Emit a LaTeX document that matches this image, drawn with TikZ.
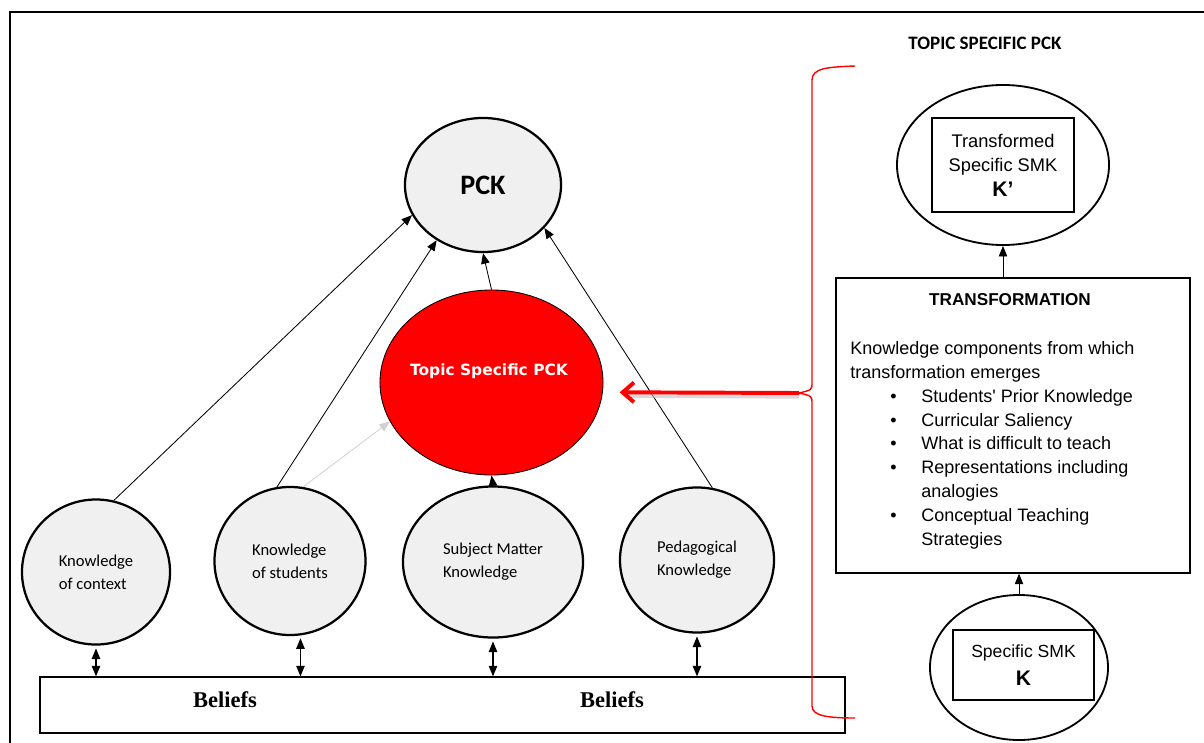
\documentclass[tikz,border=0pt]{standalone}
\usepackage{fontspec}
\setmainfont{Liberation Sans}
\newfontfamily\narrowfont{Carlito}
\newfontfamily\verdfont{DejaVu Sans}
\newfontfamily\timesfont{Liberation Serif}
\usetikzlibrary{shapes.geometric,arrows.meta}
\definecolor{lightfill}{RGB}{240,240,240}
\definecolor{pckred}{RGB}{255,0,0}
\newcommand{\tbul}{\hspace*{28.5pt}\makebox[22pt][l]{\textbullet}}

\tikzset{
  kell/.style={ellipse, draw, line width=1.6pt, fill=lightfill, inner sep=0pt, align=left,
    font=\narrowfont\fontsize{11.8}{16.4}\selectfont},
  rell/.style={ellipse, draw, line width=1.3pt, inner sep=0pt},
  rbox/.style={rectangle, draw, line width=0.9pt, inner sep=0pt},
  arr/.style={-{Triangle[length=7.5pt,width=6pt]}, line width=0.6pt},
  dblarr/.style={{Triangle[length=7.5pt,width=6pt]}-{Triangle[length=7.5pt,width=6pt]}, line width=0.8pt},
}

\begin{document}
\begin{tikzpicture}[x=0.025cm,y=-0.025cm]
\useasboundingbox (0,0) rectangle (1204,743);
\draw[line width=1.2pt] (1204,12) -- (10,12) -- (10,743);

\node[ellipse, draw, line width=1.6pt, fill=lightfill, minimum width=3.9cm, minimum height=3.35cm,
  font=\narrowfont\bfseries\fontsize{20}{22}\selectfont] (pck) at (483,185) {PCK};
\node[ellipse, draw, line width=0.6pt, fill=pckred, minimum width=5.575cm, minimum height=4.625cm] (tspck) at (491.5,382.5) {};
\node[text=white, font=\verdfont\bfseries\fontsize{11}{13}\selectfont] (tspcktext) at (489,371) {Topic Specific PCK};

\node[kell, minimum width=3.7cm, minimum height=3.625cm] (koc) at (96,572) {Knowledge\\of context};
\node[kell, minimum width=3.775cm, minimum height=3.7cm] (kos) at (290,561) {Knowledge\\of students};
\node[kell, minimum width=4.5cm, minimum height=3.775cm] (smk) at (493,562) {Subject Matter\\Knowledge};
\node[kell, minimum width=3.85cm, minimum height=3.625cm] (pk) at (697,560) {Pedagogical\\Knowledge};

\node[rbox, minimum width=20.125cm, minimum height=1.4cm] (beliefs) at (442.5,705) {};
\node[font=\timesfont\bfseries\fontsize{16}{18}\selectfont] (belief1) at (225,700) {Beliefs};
\node[font=\timesfont\bfseries\fontsize{16}{18}\selectfont] (belief2) at (612,700) {Beliefs};

\draw[dblarr, shorten <=2pt] (koc.south) -- (koc.south |- beliefs.north);
\draw[dblarr, shorten <=2pt] (kos.-82) -- (kos.-82 |- beliefs.north);
\draw[dblarr, shorten <=2pt] (smk.south) -- (smk.south |- beliefs.north);
\draw[dblarr, shorten <=2pt] (pk.south) -- (pk.south |- beliefs.north);

\draw[arr] (koc.76) -- (pck.203);
\draw[arr] (kos.100) -- (pck.230);
\draw[arr, color=black!18] (kos.80) -- (tspck.201);
\draw[arr] (smk.north) -- (tspck.south);
\draw[arr] (tspck.north) -- (pck.south);
\draw[arr] (pk.78) -- (pck.325);

\node[font=\narrowfont\bfseries\fontsize{13.5}{15}\selectfont] (title) at (985,43) {TOPIC SPECIFIC PCK};

\node[rell, minimum width=5.3cm, minimum height=4cm] (tsmk) at (1003,165) {};
\node[rbox, minimum width=3.55cm, minimum height=2.35cm, align=center, font=\fontsize{13}{17.5}\selectfont]
  (tsmkbox) at (1003,165) {Transformed\\Specific SMK\\{\bfseries\fontsize{15}{17}\selectfont K’}};

\node[rbox, minimum width=8.85cm, minimum height=7.375cm] (trans) at (1013,425.5) {};
\node[font=\bfseries\fontsize{12.2}{14}\selectfont] (transtitle) at (1010,300) {TRANSFORMATION};
\node[anchor=north west, inner sep=0pt, align=left, font=\fontsize{12.8}{17}\selectfont] (translist) at (850,341)
  {Knowledge components from which\\
   transformation emerges\\
   \tbul Students\textquotesingle{} Prior Knowledge\\
   \tbul Curricular Saliency\\
   \tbul What is difficult to teach\\
   \tbul Representations including\\
   \hspace*{50.5pt}analogies\\
   \tbul Conceptual Teaching\\
   \hspace*{50.5pt}Strategies};

\node[rell, minimum width=4.45cm, minimum height=3.625cm] (ssmk) at (1019,667.5) {};
\node[rbox, minimum width=3.525cm, minimum height=1.75cm, align=center, font=\fontsize{12.5}{20}\selectfont]
  (ssmkbox) at (1023.5,665) {Specific SMK\\{\bfseries\fontsize{15}{17}\selectfont K}};

\draw[arr] (tsmk.south |- trans.north) -- (tsmk.south);
\draw[arr] (ssmk.north) -- (ssmk.north |- trans.south);

\coordinate (brtip) at (799,393);
\draw[pckred, line width=1pt] (855,66) .. controls (828,67) and (812,68) .. (812,80) -- (812,382)
  .. controls (812,390) .. (brtip) .. controls (812,396) .. (812,404) -- (812,706)
  .. controls (812,716) and (828,718) .. (855,718);
\draw[black!25, opacity=0.6, line width=3pt, shorten >=16pt] ([yshift=-2.5pt]brtip) -- ([yshift=-2.5pt]tspck.-5.5);
\draw[pckred, line width=2.8pt, shorten >=12pt, -{Straight Barb[length=8pt,width=14pt]}] (brtip) -- (tspck.-5.5);
\end{tikzpicture}
\end{document}
